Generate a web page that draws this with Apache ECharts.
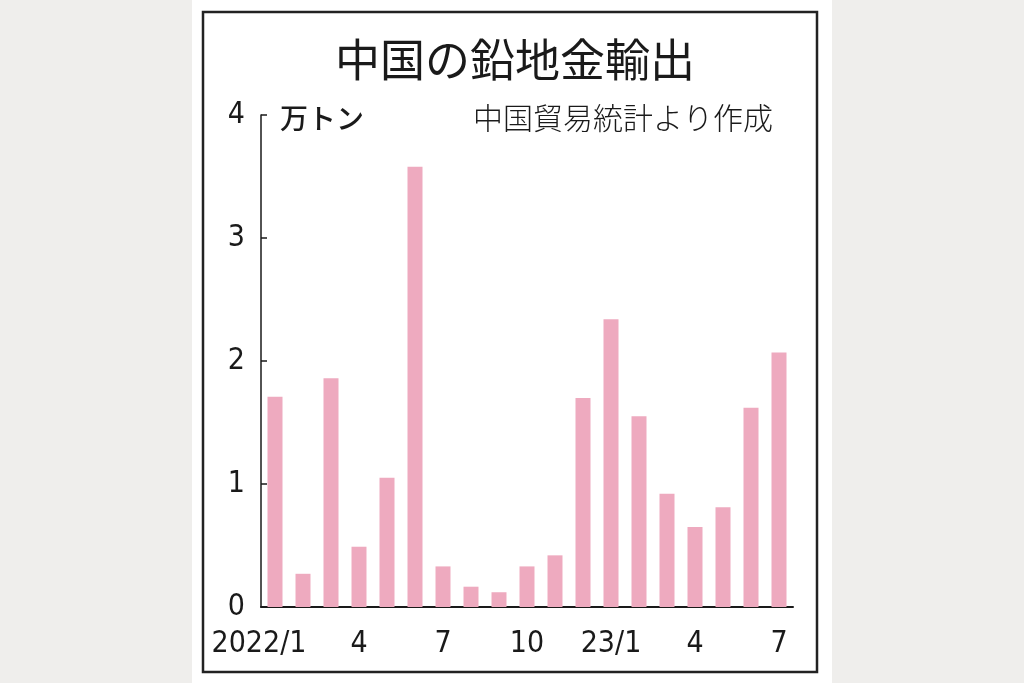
<!DOCTYPE html>
<html>
<head>
<meta charset="utf-8">
<script src="https://cdn.jsdelivr.net/npm/echarts@6/dist/echarts.min.js"></script>
<style>
  html, body { margin: 0; padding: 0; background: #efeeec; }
  #chart { width: 1024px; height: 683px; }
</style>
</head>
<body>
<div id="chart"></div>
<script>
// 月別カテゴリ（2022/1〜2023/7）
const months = ['2022/1', '2', '3', '4', '5', '6', '7', '8', '9', '10', '11', '12',
  '23/1', '2', '3', '4', '5', '6', '7']
// 鉛地金輸出量（万トン）
const exportValues = [1.71, 0.27, 1.86, 0.49, 1.05, 3.58, 0.33, 0.165, 0.12, 0.33, 0.42, 1.70,
  2.34, 1.55, 0.92, 0.65, 0.81, 1.62, 2.07]
const yTicks = [0, 1, 2, 3, 4]

const numFont = '"DejaVu Sans Condensed", sans-serif'
const jpFont = '"Noto Sans CJK JP", sans-serif'

const chart = echarts.init(document.getElementById('chart'))

const option = {
  backgroundColor: 'transparent',
  animation: false,
  title: {
    text: '中国の鉛地金輸出',
    left: 510,
    textAlign: 'center',
    top: 32,
    textStyle: {
      fontFamily: jpFont,
      fontSize: 45,
      fontWeight: 'normal',
      color: '#1a1a1a'
    }
  },
  graphic: [
    // 白いパネル
    {
      type: 'rect', z: -10,
      shape: { x: 192, y: 0, width: 640, height: 683 },
      style: { fill: '#ffffff' }
    },
    // 枠
    {
      type: 'rect', z: -9,
      shape: { x: 203, y: 12, width: 614, height: 660 },
      style: { fill: 'none', stroke: '#222', lineWidth: 2.5 }
    },
    {
      type: 'text', left: 280, top: 104,
      style: { text: '万トン', font: '500 28px ' + jpFont, fill: '#1a1a1a' }
    },
    {
      type: 'text', left: 473, top: 103,
      style: { text: '中国貿易統計より作成', font: '300 30px ' + jpFont, fill: '#1a1a1a' }
    }
  ],
  grid: {
    left: 261,
    right: 231,
    top: 115,
    bottom: 76
  },
  xAxis: {
    type: 'category',
    data: months.map((m, i) => i === 0
      ? { value: m, textStyle: { padding: [0, 32, 0, 0] } }
      : m),
    axisLine: { show: true, lineStyle: { color: '#1a1a1a', width: 2 } },
    axisTick: { show: false },
    axisLabel: {
      interval: 2,
      margin: 22,
      color: '#1a1a1a',
      fontSize: 30,
      fontFamily: numFont
    }
  },
  yAxis: {
    type: 'value',
    min: yTicks[0],
    max: yTicks[yTicks.length - 1],
    interval: 1,
    splitLine: { show: false },
    axisLine: { show: true, lineStyle: { color: '#1a1a1a', width: 1.5 } },
    axisTick: { show: true, inside: true, length: 6, lineStyle: { color: '#1a1a1a', width: 1.5 } },
    axisLabel: {
      margin: 16,
      color: '#1a1a1a',
      fontSize: 30,
      fontFamily: numFont
    }
  },
  series: [{
    type: 'bar',
    data: exportValues,
    barWidth: 15,
    itemStyle: { color: '#eeaabf' }
  }]
}

chart.setOption(option)
</script>
</body>
</html>
